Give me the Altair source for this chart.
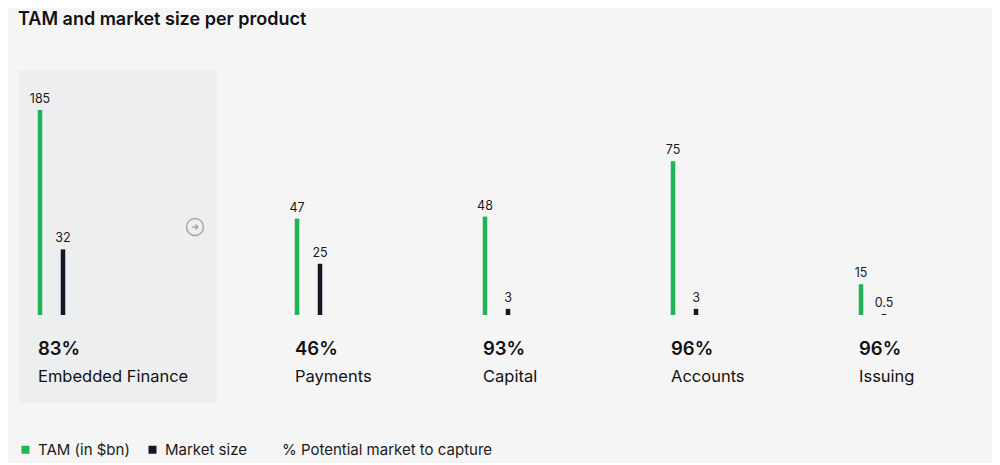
import altair as alt
import pandas as pd

products = ["Embedded Finance", "Payments", "Capital", "Accounts", "Issuing"]
tam = [185, 47, 48, 75, 15]
market = [32, 25, 3, 3, 0.5]
pct = ["83%", "46%", "93%", "96%", "96%"]
series = ["TAM (in $bn)", "Market size", "% Potential market to capture"]

rows = []
for p, t, m, c in zip(products, tam, market, pct):
    rows.append({"product": p, "series": series[0], "value": t, "label": f"{t:g}", "pct": c})
    rows.append({"product": p, "series": series[1], "value": m, "label": f"{m:g}", "pct": c})
df = pd.DataFrame(rows)

GREEN = "#1db454"
DARK = "#111827"
BG = "#f5f5f6"
BOX = "#eceef0"
FONT = "Inter"

PANEL_H = 333
yscale = alt.Scale(domain=[0, 100], range=[245, 40], clamp=True)
xscale = alt.Scale(type="point", domain=series[:2], range=[22, 45], padding=0)
color_scale = alt.Scale(domain=series, range=[GREEN, DARK, "transparent"])


def panel(i, width):
    p = products[i]
    base = alt.Chart(df).transform_filter(alt.datum.product == p)
    bars = base.mark_bar(width=4.5).encode(
        x=alt.X("series:N", scale=xscale, axis=None),
        y=alt.Y("value:Q", scale=yscale, axis=None),
        y2=alt.datum(0),
        color=alt.Color(
            "series:N",
            scale=color_scale,
            legend=alt.Legend(
                title=None, orient="none", legendX=0, legendY=372,
                direction="horizontal", symbolType="square", symbolSize=64,
                symbolStrokeWidth=0, labelFont=FONT, labelFontSize=15,
                labelColor="#1a1a1a", labelOffset=5, columnPadding=15,
                padding=0, labelLimit=400,
            ),
        ),
    )
    vals = base.mark_text(
        font=FONT, fontSize=12.5, color="#1a1a1a", baseline="alphabetic", dy=-7
    ).encode(
        x=alt.X("series:N", scale=xscale, axis=None),
        y=alt.Y("value:Q", scale=yscale, axis=None),
        text="label:N",
    )
    first = base.transform_filter(alt.datum.series == series[0])
    pct_t = first.mark_text(
        font=FONT, fontSize=18.5, fontWeight=600, color="#111111",
        align="left", baseline="alphabetic",
    ).encode(x=alt.value(20), y=alt.value(285), text="pct:N")
    name_t = first.mark_text(
        font=FONT, fontSize=16.5, color="#111111",
        align="left", baseline="alphabetic",
    ).encode(x=alt.value(20), y=alt.value(312), text="product:N")
    layers = [bars, vals, pct_t, name_t]
    if i == 0:
        box = first.mark_rect(color=BOX).encode(
            x=alt.value(0), x2=alt.value(199), y=alt.value(0), y2=alt.value(PANEL_H)
        )
        circ = first.mark_point(
            shape="circle", size=290, filled=False, stroke="#8a8a8a", strokeWidth=1.5
        ).encode(x=alt.value(177), y=alt.value(157))
        arrow = first.mark_point(
            shape="M-0.55,0L0.5,0M0.05,-0.45L0.5,0L0.05,0.45",
            size=130, filled=False, stroke="#8a8a8a", strokeWidth=1.5,
        ).encode(x=alt.value(177), y=alt.value(157))
        layers = [box] + layers + [circ, arrow]
    return alt.layer(*layers).properties(width=width, height=PANEL_H)


widths = [257, 188, 188, 188, 120]
chart = alt.hconcat(*[panel(i, w) for i, w in enumerate(widths)], spacing=0).properties(
    title=alt.Title(
        "TAM and market size per product", anchor="start", font=FONT,
        fontSize=18, fontWeight=600, color="#111111", offset=41,
    ),
    padding={"left": 10, "top": 3, "right": 33, "bottom": 5},
    background=BG,
).configure_view(stroke=None).configure_concat(spacing=0)

chart.save("out.html", embed_options={"renderer": "svg", "actions": False})
